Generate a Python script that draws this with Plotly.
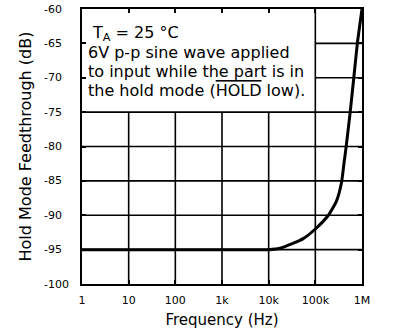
import plotly.graph_objects as go

# ---- data ----
freq_hz = [1, 10, 100, 1000, 10000, 17500, 33000, 55000, 100000, 190000,
           285000, 365000, 410000, 447000, 558000, 667000, 795000, 1000000]
feedthrough_db = [-95, -95, -95, -95, -95, -94.8, -94.1, -93.4, -92, -90,
                  -87.9, -85.2, -82.5, -80.6, -75, -70, -65, -60]

x_tick_vals = [1, 10, 100, 1000, 10000, 100000, 1000000]
x_tick_text = ["1", "10", "100", "1k", "10k", "100k", "1M"]
y_tick_vals = [-60, -65, -70, -75, -80, -85, -90, -95, -100]
y_tick_text = ["-60", "-65", "-70", "-75", "-80", "-85", "-90", "-95", "-100"]

note_lines = [
    "T<sub>A</sub> = 25 °C",
    "6V p-p sine wave applied",
    "to input while the part is in",
    "the hold mode (<span style='text-decoration:overline'>HOLD</span> low).",
]
# the note box hides the grid for x below 100k and y above -75
note_x_max = 100000
note_y_min = -75

FONT = "DejaVu Sans"
W, H = 393, 334
L, R, T, B = 82, 31, 7, 50
pw, ph = W - L - R, H - T - B
x_min, x_max = x_tick_vals[0], x_tick_vals[-1]
y_min, y_max = min(y_tick_vals), max(y_tick_vals)

# grid segments (drawn as data, clipped by the note box)
gx, gy = [], []
for v in x_tick_vals[1:-1]:
    top = y_max if v >= note_x_max else note_y_min
    gx += [v, v, None]
    gy += [y_min, top, None]
for v in y_tick_vals:
    if v in (y_min, y_max):
        continue
    left = x_min if v <= note_y_min else note_x_max
    gx += [left, x_max, None]
    gy += [v, v, None]

fig = go.Figure()
fig.add_trace(go.Scatter(
    x=gx, y=gy, mode="lines", line=dict(color="black", width=1.6),
    showlegend=False, hoverinfo="skip", connectgaps=False,
))
fig.add_trace(go.Scatter(
    x=freq_hz, y=feedthrough_db, mode="lines",
    line=dict(color="black", width=3, shape="spline", smoothing=0.5),
    showlegend=False, hoverinfo="skip",
))

annotations = []
for v, t in zip(y_tick_vals, y_tick_text):
    annotations.append(dict(
        x=(42 - L) / pw, xref="paper", xanchor="left",
        y=v, yref="y", yanchor="middle",
        text=t, showarrow=False, font=dict(family=FONT, size=11, color="black"),
    ))

line_px = [32, 51, 70, 89]
line_x = [90, 86, 86, 86]
for t, py, px in zip(note_lines, line_px, line_x):
    annotations.append(dict(
        x=(px - L) / pw, xref="paper", xanchor="left",
        y=1 - (py - T) / ph, yref="paper", yanchor="middle",
        text=t, showarrow=False, align="left",
        font=dict(family=FONT, size=16, color="black"),
    ))

fig.update_layout(
    width=W, height=H,
    margin=dict(l=L, r=R, t=T, b=B, pad=0),
    paper_bgcolor="white", plot_bgcolor="white",
    font=dict(family=FONT, color="black"),
    annotations=annotations,
    xaxis=dict(
        type="log", range=[0, 6],
        tickvals=x_tick_vals, ticktext=x_tick_text,
        tickfont=dict(family=FONT, size=11, color="black"),
        ticklabelstandoff=5,
        showgrid=False,
        showline=True, linecolor="black", linewidth=2, mirror="ticks",
        ticks="inside", ticklen=4, tickwidth=1.5, tickcolor="black",
        zeroline=False,
        title=dict(text="Frequency (Hz)", font=dict(family=FONT, size=15, color="black"), standoff=8),
    ),
    yaxis=dict(
        range=[-100, -60],
        tickvals=y_tick_vals, showticklabels=False,
        showgrid=False,
        showline=True, linecolor="black", linewidth=2, mirror="ticks",
        ticks="inside", ticklen=4, tickwidth=1.5, tickcolor="black",
        zeroline=False,
        title=dict(text="Hold Mode Feedthrough (dB)", font=dict(family=FONT, size=16, color="black"), standoff=44),
    ),
)

fig.write_html("out.html")
